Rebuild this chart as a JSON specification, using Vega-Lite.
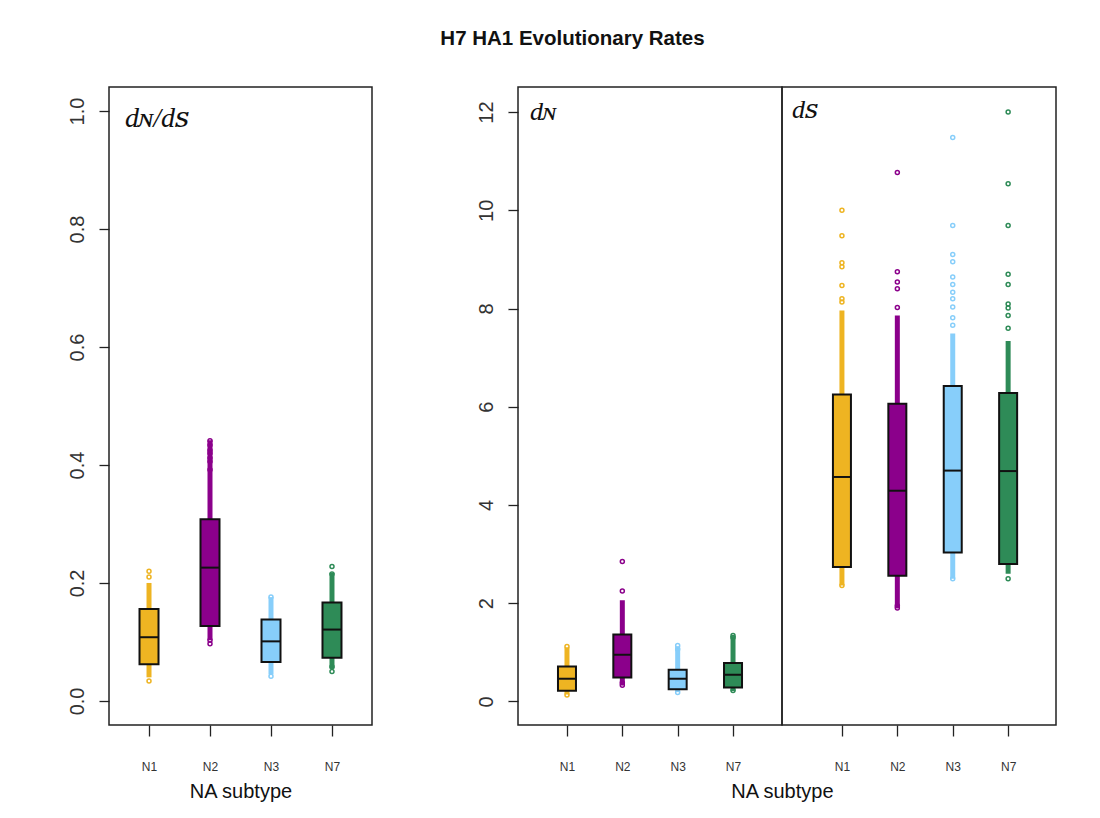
{
  "$schema": "https://vega.github.io/schema/vega-lite/v6.json",
  "padding": {"left": 66, "top": 28, "right": 0, "bottom": 0},
  "background": "white",
  "config": {
    "view": {"stroke": "#222", "strokeWidth": 1.5},
    "axis": {"domain": false, "grid": false, "tickColor": "#222", "tickWidth": 1.3, "labelColor": "#333", "labelFont": "Liberation Sans", "titleFont": "Liberation Sans", "titleFontWeight": "normal", "titleColor": "#111"},
    "legend": {"disable": true}
  },
  "datasets": {
    "stats": [
      {"panel": "ratio", "subtype": "N1", "q1": 0.062, "median": 0.108, "q3": 0.156, "lo": 0.04, "hi": 0.2},
      {"panel": "ratio", "subtype": "N2", "q1": 0.127, "median": 0.226, "q3": 0.308, "lo": 0.103, "hi": 0.442},
      {"panel": "ratio", "subtype": "N3", "q1": 0.066, "median": 0.101, "q3": 0.138, "lo": 0.045, "hi": 0.176},
      {"panel": "ratio", "subtype": "N7", "q1": 0.073, "median": 0.121, "q3": 0.167, "lo": 0.055, "hi": 0.217},
      {"panel": "dN", "subtype": "N1", "q1": 0.218, "median": 0.462, "q3": 0.713, "lo": 0.14, "hi": 1.1},
      {"panel": "dN", "subtype": "N2", "q1": 0.489, "median": 0.95, "q3": 1.364, "lo": 0.33, "hi": 2.06},
      {"panel": "dN", "subtype": "N3", "q1": 0.25, "median": 0.462, "q3": 0.645, "lo": 0.19, "hi": 1.12},
      {"panel": "dN", "subtype": "N7", "q1": 0.285, "median": 0.543, "q3": 0.78, "lo": 0.21, "hi": 1.33},
      {"panel": "dS", "subtype": "N1", "q1": 2.735, "median": 4.57, "q3": 6.25, "lo": 2.36, "hi": 7.96},
      {"panel": "dS", "subtype": "N2", "q1": 2.56, "median": 4.29, "q3": 6.06, "lo": 1.9, "hi": 7.86},
      {"panel": "dS", "subtype": "N3", "q1": 3.03, "median": 4.7, "q3": 6.42, "lo": 2.5, "hi": 7.49},
      {"panel": "dS", "subtype": "N7", "q1": 2.8, "median": 4.69, "q3": 6.28, "lo": 2.6, "hi": 7.34}
    ],
    "outl": [
      {"panel": "ratio", "subtype": "N1", "value": 0.034},
      {"panel": "ratio", "subtype": "N1", "value": 0.21},
      {"panel": "ratio", "subtype": "N1", "value": 0.22},
      {"panel": "ratio", "subtype": "N2", "value": 0.097},
      {"panel": "ratio", "subtype": "N2", "value": 0.103},
      {"panel": "ratio", "subtype": "N2", "value": 0.392},
      {"panel": "ratio", "subtype": "N2", "value": 0.406},
      {"panel": "ratio", "subtype": "N2", "value": 0.412},
      {"panel": "ratio", "subtype": "N2", "value": 0.42},
      {"panel": "ratio", "subtype": "N2", "value": 0.425},
      {"panel": "ratio", "subtype": "N2", "value": 0.434},
      {"panel": "ratio", "subtype": "N2", "value": 0.441},
      {"panel": "ratio", "subtype": "N3", "value": 0.042},
      {"panel": "ratio", "subtype": "N3", "value": 0.176},
      {"panel": "ratio", "subtype": "N7", "value": 0.05},
      {"panel": "ratio", "subtype": "N7", "value": 0.058},
      {"panel": "ratio", "subtype": "N7", "value": 0.215},
      {"panel": "ratio", "subtype": "N7", "value": 0.228},
      {"panel": "dN", "subtype": "N1", "value": 0.13},
      {"panel": "dN", "subtype": "N1", "value": 1.12},
      {"panel": "dN", "subtype": "N2", "value": 0.33},
      {"panel": "dN", "subtype": "N2", "value": 0.38},
      {"panel": "dN", "subtype": "N2", "value": 2.25},
      {"panel": "dN", "subtype": "N2", "value": 2.85},
      {"panel": "dN", "subtype": "N3", "value": 0.18},
      {"panel": "dN", "subtype": "N3", "value": 1.06},
      {"panel": "dN", "subtype": "N3", "value": 1.14},
      {"panel": "dN", "subtype": "N7", "value": 0.22},
      {"panel": "dN", "subtype": "N7", "value": 1.3},
      {"panel": "dN", "subtype": "N7", "value": 1.34},
      {"panel": "dS", "subtype": "N1", "value": 2.36},
      {"panel": "dS", "subtype": "N1", "value": 8.13},
      {"panel": "dS", "subtype": "N1", "value": 8.2},
      {"panel": "dS", "subtype": "N1", "value": 8.47},
      {"panel": "dS", "subtype": "N1", "value": 8.85},
      {"panel": "dS", "subtype": "N1", "value": 8.93},
      {"panel": "dS", "subtype": "N1", "value": 9.48},
      {"panel": "dS", "subtype": "N1", "value": 10.0},
      {"panel": "dS", "subtype": "N2", "value": 1.9},
      {"panel": "dS", "subtype": "N2", "value": 1.95},
      {"panel": "dS", "subtype": "N2", "value": 8.02},
      {"panel": "dS", "subtype": "N2", "value": 8.4},
      {"panel": "dS", "subtype": "N2", "value": 8.54},
      {"panel": "dS", "subtype": "N2", "value": 8.75},
      {"panel": "dS", "subtype": "N2", "value": 10.77},
      {"panel": "dS", "subtype": "N3", "value": 2.5},
      {"panel": "dS", "subtype": "N3", "value": 7.66},
      {"panel": "dS", "subtype": "N3", "value": 7.81},
      {"panel": "dS", "subtype": "N3", "value": 8.03},
      {"panel": "dS", "subtype": "N3", "value": 8.2},
      {"panel": "dS", "subtype": "N3", "value": 8.33},
      {"panel": "dS", "subtype": "N3", "value": 8.49},
      {"panel": "dS", "subtype": "N3", "value": 8.64},
      {"panel": "dS", "subtype": "N3", "value": 8.95},
      {"panel": "dS", "subtype": "N3", "value": 9.1},
      {"panel": "dS", "subtype": "N3", "value": 9.69},
      {"panel": "dS", "subtype": "N3", "value": 11.48},
      {"panel": "dS", "subtype": "N7", "value": 2.5},
      {"panel": "dS", "subtype": "N7", "value": 7.6},
      {"panel": "dS", "subtype": "N7", "value": 7.86},
      {"panel": "dS", "subtype": "N7", "value": 8.01},
      {"panel": "dS", "subtype": "N7", "value": 8.09},
      {"panel": "dS", "subtype": "N7", "value": 8.49},
      {"panel": "dS", "subtype": "N7", "value": 8.7},
      {"panel": "dS", "subtype": "N7", "value": 9.69},
      {"panel": "dS", "subtype": "N7", "value": 10.54},
      {"panel": "dS", "subtype": "N7", "value": 12.0}
    ]
  },
  "title": {"text": "H7 HA1 Evolutionary Rates", "fontSize": 20.5, "fontWeight": "bold", "font": "Liberation Sans", "anchor": "middle", "offset": 37, "dx": 11, "color": "#111"},
  "spacing": 102,
  "hconcat": [
    {
      "width": 263,
      "height": 638,
      "title": {"text": "dɴ/dꜱ", "anchor": "start", "frame": "group", "font": "Liberation Serif, DejaVu Serif", "fontStyle": "italic", "fontWeight": "normal", "fontSize": 28, "baseline": "alphabetic", "offset": 0, "dx": 16, "dy": 68, "color": "#111"},
      "encoding": {
        "x": {"field": "subtype", "type": "nominal", "scale": {"type": "point", "padding": 0.656, "domain": ["N1", "N2", "N3", "N7"]},
          "axis": {"title": "NA subtype", "titleFontSize": 20, "titlePadding": 9, "labelFontSize": 12, "tickSize": 11, "labelPadding": 25, "labelAngle": 0}},
        "color": {"field": "subtype", "type": "nominal", "scale": {"domain": ["N1", "N2", "N3", "N7"], "range": ["#EEB422", "#8B008B", "#87CEFA", "#2E8B57"]}}
      },
      "layer": [
        {"data": {"name": "stats"}, "transform": [{"filter": "datum.panel == 'ratio'"}],
          "mark": {"type": "rule", "strokeWidth": 5},
          "encoding": {"y": {"field": "lo", "type": "quantitative", "scale": {"domain": [-0.0408, 1.0408], "nice": false, "zero": false},
            "axis": {"title": null, "values": [0, 0.2, 0.4, 0.6, 0.8, 1.0], "format": ".1f", "labelFontSize": 20, "labelAngle": -90, "labelAlign": "center", "labelBaseline": "bottom", "tickSize": 10, "labelPadding": 12}},
            "y2": {"field": "hi"}}},
        {"data": {"name": "outl"}, "transform": [{"filter": "datum.panel == 'ratio'"}],
          "mark": {"type": "point", "filled": false, "size": 16, "strokeWidth": 1.5, "opacity": 1},
          "encoding": {"y": {"field": "value", "type": "quantitative"}}},
        {"data": {"name": "stats"}, "transform": [{"filter": "datum.panel == 'ratio'"}],
          "mark": {"type": "bar", "width": 19, "stroke": "#111", "strokeWidth": 2},
          "encoding": {"y": {"field": "q1", "type": "quantitative"}, "y2": {"field": "q3"}}},
        {"data": {"name": "stats"}, "transform": [{"filter": "datum.panel == 'ratio'"}],
          "mark": {"type": "tick", "color": "#111", "thickness": 2, "size": 19, "opacity": 1},
          "encoding": {"y": {"field": "median", "type": "quantitative"}, "color": {"value": "#111"}}}
      ]
    },
    {
      "title": {"text": "NA subtype", "orient": "bottom", "anchor": "start", "dx": 256, "fontSize": 20, "fontWeight": "normal", "font": "Liberation Sans", "color": "#111", "offset": 9},
      "spacing": 0,
      "bounds": "flush",
      "hconcat": [
        {
          "width": 264,
          "height": 638,
          "title": {"text": "dɴ", "anchor": "start", "frame": "group", "font": "Liberation Serif, DejaVu Serif", "fontStyle": "italic", "fontWeight": "normal", "fontSize": 26, "baseline": "alphabetic", "offset": 0, "dx": 12, "dy": 59, "color": "#111"},
          "encoding": {
            "x": {"field": "subtype", "type": "nominal", "scale": {"type": "point", "padding": 0.885, "domain": ["N1", "N2", "N3", "N7"]},
              "axis": {"title": null, "labelFontSize": 12, "tickSize": 11, "labelPadding": 25, "labelAngle": 0}},
            "color": {"field": "subtype", "type": "nominal", "scale": {"domain": ["N1", "N2", "N3", "N7"], "range": ["#EEB422", "#8B008B", "#87CEFA", "#2E8B57"]}}
          },
          "layer": [
            {"data": {"name": "stats"}, "transform": [{"filter": "datum.panel == 'dN'"}],
              "mark": {"type": "rule", "strokeWidth": 5},
              "encoding": {"y": {"field": "lo", "type": "quantitative", "scale": {"domain": [-0.48, 12.51], "nice": false, "zero": false},
                "axis": {"title": null, "values": [0, 2, 4, 6, 8, 10, 12], "labelFontSize": 20, "labelAngle": -90, "labelAlign": "center", "labelBaseline": "bottom", "tickSize": 10, "labelPadding": 12}},
                "y2": {"field": "hi"}}},
            {"data": {"name": "outl"}, "transform": [{"filter": "datum.panel == 'dN'"}],
              "mark": {"type": "point", "filled": false, "size": 16, "strokeWidth": 1.5, "opacity": 1},
              "encoding": {"y": {"field": "value", "type": "quantitative"}}},
            {"data": {"name": "stats"}, "transform": [{"filter": "datum.panel == 'dN'"}],
              "mark": {"type": "bar", "width": 18, "stroke": "#111", "strokeWidth": 2},
              "encoding": {"y": {"field": "q1", "type": "quantitative"}, "y2": {"field": "q3"}}},
            {"data": {"name": "stats"}, "transform": [{"filter": "datum.panel == 'dN'"}],
              "mark": {"type": "tick", "color": "#111", "thickness": 2, "size": 18, "opacity": 1},
              "encoding": {"y": {"field": "median", "type": "quantitative"}, "color": {"value": "#111"}}}
          ]
        },
        {
          "width": 274,
          "height": 638,
          "title": {"text": "dꜱ", "anchor": "start", "frame": "group", "font": "Liberation Serif, DejaVu Serif", "fontStyle": "italic", "fontWeight": "normal", "fontSize": 26, "baseline": "alphabetic", "offset": 0, "dx": 10, "dy": 57, "color": "#111"},
          "encoding": {
            "x": {"field": "subtype", "type": "nominal", "scale": {"type": "point", "padding": 0.973, "align": 0.556, "domain": ["N1", "N2", "N3", "N7"]},
              "axis": {"title": null, "labelFontSize": 12, "tickSize": 11, "labelPadding": 25, "labelAngle": 0}},
            "color": {"field": "subtype", "type": "nominal", "scale": {"domain": ["N1", "N2", "N3", "N7"], "range": ["#EEB422", "#8B008B", "#87CEFA", "#2E8B57"]}}
          },
          "layer": [
            {"data": {"name": "stats"}, "transform": [{"filter": "datum.panel == 'dS'"}],
              "mark": {"type": "rule", "strokeWidth": 5},
              "encoding": {"y": {"field": "lo", "type": "quantitative", "scale": {"domain": [-0.48, 12.51], "nice": false, "zero": false}, "axis": null},
                "y2": {"field": "hi"}}},
            {"data": {"name": "outl"}, "transform": [{"filter": "datum.panel == 'dS'"}],
              "mark": {"type": "point", "filled": false, "size": 16, "strokeWidth": 1.5, "opacity": 1},
              "encoding": {"y": {"field": "value", "type": "quantitative"}}},
            {"data": {"name": "stats"}, "transform": [{"filter": "datum.panel == 'dS'"}],
              "mark": {"type": "bar", "width": 18, "stroke": "#111", "strokeWidth": 2},
              "encoding": {"y": {"field": "q1", "type": "quantitative"}, "y2": {"field": "q3"}}},
            {"data": {"name": "stats"}, "transform": [{"filter": "datum.panel == 'dS'"}],
              "mark": {"type": "tick", "color": "#111", "thickness": 2, "size": 18, "opacity": 1},
              "encoding": {"y": {"field": "median", "type": "quantitative"}, "color": {"value": "#111"}}}
          ]
        }
      ]
    }
  ]
}
